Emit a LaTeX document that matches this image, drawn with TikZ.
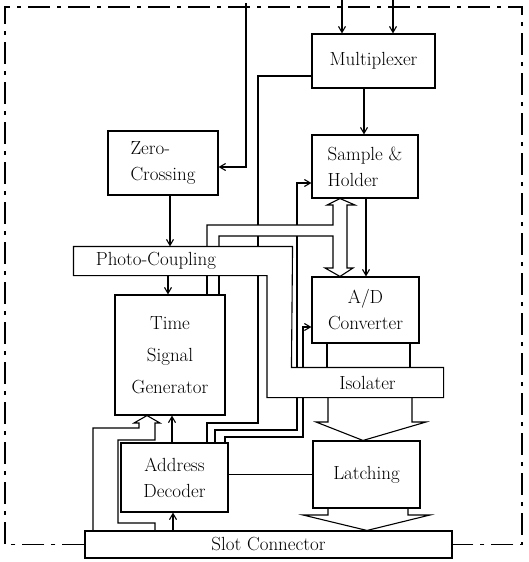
\documentclass[tikz,border=0pt]{standalone}
\usetikzlibrary{arrows.meta}
\begin{document}
\begin{tikzpicture}[x=1pt,y=-1pt,line width=1.1pt,line join=miter,
  box/.style={draw,rectangle,inner sep=0pt,font=\fontsize{19}{26}\selectfont,align=center},
  lbl/.style={inner sep=0pt,font=\fontsize{19}{26}\selectfont},
  arr/.style={-{Straight Barb[length=6pt,width=7pt]}},
  framepat/.style={dash pattern=on 22pt off 7pt on 4pt off 7pt}]
\useasboundingbox (0,0) rectangle (529,562);
% boxes
\node[box,minimum width=123pt,minimum height=54pt] (mux) at (373.5,61) {Multiplexer};
\node[box,minimum width=106pt,minimum height=63pt,align=left] (sh) at (365,166.5) {Sample \&\\ Holder};
\node[box,minimum width=110pt,minimum height=64pt,align=left] (zc) at (163,163) {Zero-\\Crossing};
\node[box,minimum width=107pt,minimum height=66pt] (ad) at (365.5,310) {A/D\\Converter};
\node[box,minimum width=110pt,minimum height=120pt,font=\fontsize{19}{32}\selectfont] (tsg) at (170,355) {Time\\Signal\\Generator};
\node[box,minimum width=107pt,minimum height=69pt] (addr) at (174.5,477.5) {Address\\Decoder};
\node[box,minimum width=107pt,minimum height=67pt] (latch) at (366.5,474.5) {Latching};
\node[box,minimum width=367pt,minimum height=27pt] (slot) at (268.5,544.5) {Slot Connector};
% photo-coupling and isolater (joined outline)
\node[inner sep=0pt,minimum width=218pt,minimum height=28pt] (pc) at (183,261) {};
\node[lbl] (pctext) at (156,261) {Photo-Coupling};
\node[lbl,minimum width=151pt,minimum height=29pt] (iso) at (367.5,382.5) {Isolater};
\draw (pc.north west) -- (pc.north east) -- (iso.north west) -- (iso.north east)
      -- (iso.south east) -- (iso.south west -| 267,0) -- (pc.south -| 267,0) -- (pc.south west) -- cycle;
% frame
\draw[framepat] (slot.west) -- (slot.west -| 5,0) -- (5,7) -- (522,7) -- (522,0 |- slot.east) -- (slot.east);
% inputs
\coordinate (mi1) at (342,0);
\coordinate (mi2) at (393,0);
\coordinate (zin) at (246,3);
\draw[arr] (mi1) -- (mi1 |- mux.north);
\draw[arr] (mi2) -- (mi2 |- mux.north);
\draw[arr] (zin) -- (zin |- 0,167) -- (zc.east |- 0,167);
% simple arrows
\draw[arr] (mux.south -| 364,0) -- (sh.north -| 364,0);
\draw[arr] (sh.south -| 366,0) -- (ad.north -| 366,0);
\draw[arr] (zc.south -| 170,0) -- (pc.north -| 170,0);
\draw[arr] (pc.south -| 168,0) -- (tsg.north -| 168,0);
\draw[arr] (addr.north -| 172,0) -- (tsg.south -| 172,0);
\draw[arr] (slot.north -| 173,0) -- (addr.south -| 173,0);
\draw (addr.east |- latch.west) -- (latch.west);
% address lines
\draw (mux.west |- 0,76) -- (258,76) -- (258,225);
\draw (258,236) -- (pc.north -| 258,0);
\draw (pc.south -| 258,0) -- (258,423) -- (207,423) -- (addr.north -| 207,0);
\draw[arr] (297,225) -- (297,183) -- (sh.west |- 0,183);
\draw (297,236) -- (iso.north -| 297,0);
\draw (iso.south -| 297,0) -- (297,430) -- (215,430) -- (addr.north -| 215,0);
\draw[arr] (iso.north -| 303,0) -- (303,327) -- (ad.west |- 0,327);
\draw (iso.south -| 303,0) -- (303,437) -- (225,437) -- (addr.north -| 225,0);
% data bus TSG <-> S&H / A/D
\draw (tsg.north -| 207,0) -- (pc.south -| 207,0);
\draw (tsg.north -| 219,0) -- (pc.south -| 219,0);
\draw (pc.north -| 207,0) -- (207,225) -- (333,225) -- (333,205) -- (327,205) -- (sh.south -| 340,0)
   -- (355,205) -- (347,205) -- (347,268) -- (353,268) -- (ad.north -| 340,0) -- (325,268)
   -- (333,268) -- (333,236) -- (219,236) -- (pc.north -| 219,0);
% A/D -> Isolater -> Latching -> Slot
\draw (ad.south -| 327,0) -- (iso.north -| 327,0);
\draw (ad.south -| 410,0) -- (iso.north -| 410,0);
\draw (iso.south -| 328,0) -- (328,422) -- (316,422) -- (latch.north -| 363,0) -- (426,422) -- (412,422) -- (iso.south -| 412,0);
\draw (latch.south -| 328,0) -- (328,515) -- (303,515) -- (slot.north -| 367,0) -- (430,515) -- (408,515) -- (latch.south -| 408,0);
% slot -> TSG bus
\draw (slot.north -| 93,0) -- (93,428) -- (139,428) -- (139,423) -- (134,423) -- (tsg.south -| 147,0)
   -- (160,423) -- (155,423) -- (155,440) -- (118,440) -- (118,523) -- (155,523) -- (slot.north -| 155,0);
\end{tikzpicture}
\end{document}
